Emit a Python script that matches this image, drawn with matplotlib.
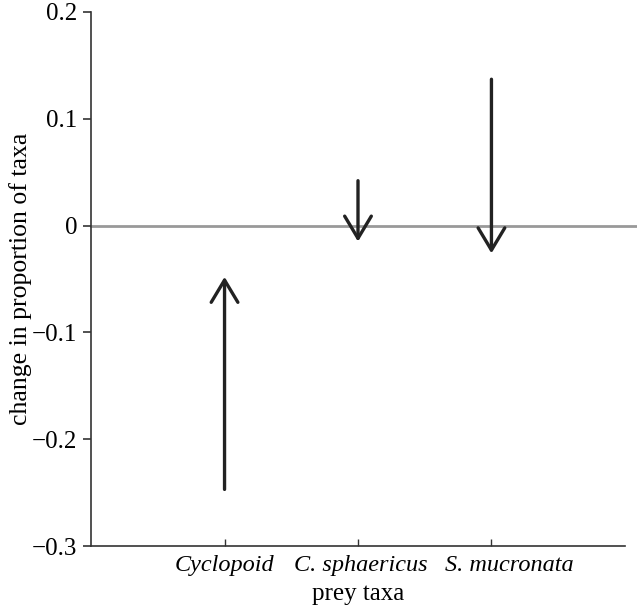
import matplotlib.pyplot as plt

# data
taxa = ["Cyclopoid", "C. sphaericus", "S. mucronata"]
start_vals = [-0.247, 0.042, 0.137]
end_vals = [-0.048, -0.015, -0.026]
y_ticks = [-0.3, -0.2, -0.1, 0, 0.1, 0.2]
y_tick_labels = ["\u22120.3", "\u22120.2", "\u22120.1", "0", "0.1", "0.2"]

plt.rcParams['font.family'] = ['Liberation Serif', 'DejaVu Serif']

fig = plt.figure(figsize=(6.37, 6.09), dpi=100)
ax = fig.add_axes([0.143, 0.1034, 0.838, 0.877])

xs = list(range(1, len(taxa) + 1))

# zero line runs a bit past the axes on the right
ax.plot([0, 4.09], [0, 0], color='#999999', lw=2, clip_on=False, zorder=1)

for x, s, e in zip(xs, start_vals, end_vals):
    ax.annotate("", xy=(x, e), xytext=(x, s),
                arrowprops=dict(arrowstyle="->,head_length=0.8,head_width=0.48",
                                mutation_scale=20, lw=2.4, color='#222222',
                                shrinkA=0, shrinkB=0), zorder=3)

ax.set_xlim(0, 4)
ax.set_ylim(-0.3, 0.2)
ax.set_yticks(y_ticks)
ax.set_yticklabels(y_tick_labels, fontsize=18)
ax.set_xticks(xs)
ax.set_xticklabels([])

# the labels in the original sit slightly right of their ticks
shifts = [0, 3, 18]
for x, lab, dx in zip(xs, taxa, shifts):
    ax.annotate(lab, xy=(x, 0), xycoords=('data', 'axes fraction'),
                xytext=(dx, -9), textcoords='offset pixels',
                ha='center', va='top', fontsize=17.5, style='italic')

for side in ['top', 'right']:
    ax.spines[side].set_visible(False)
for side in ['left', 'bottom']:
    ax.spines[side].set_color('#333333')
    ax.spines[side].set_linewidth(1.2)

ax.tick_params(axis='y', direction='out', length=6, width=1.2, color='#333333', pad=4)
ax.tick_params(axis='x', direction='in', length=5, width=1, color='#333333')

ax.set_xlabel("prey taxa", fontsize=18)
ax.xaxis.set_label_coords(0.5, -0.069)
ax.set_ylabel("change in proportion of taxa", fontsize=18.5, labelpad=0)

fig.savefig("out.png", dpi=100)
